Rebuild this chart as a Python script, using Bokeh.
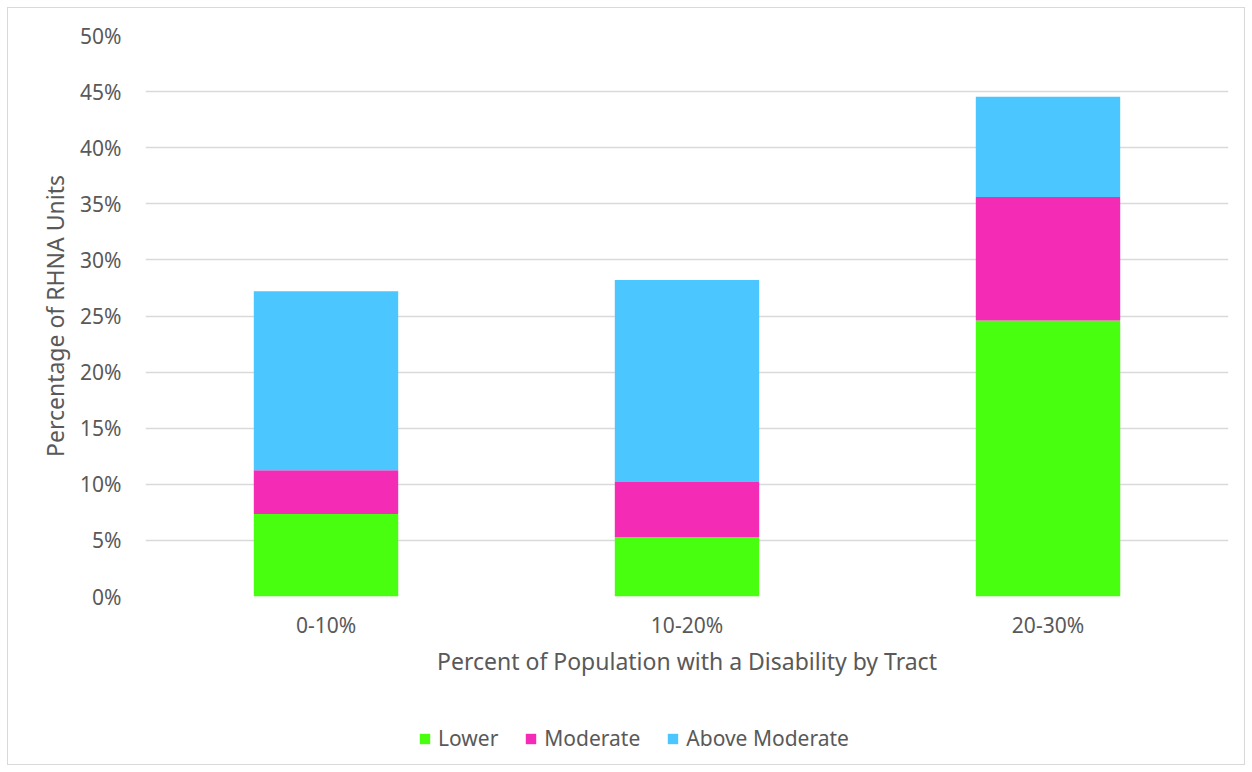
from bokeh.plotting import figure
from bokeh.layouts import column
from bokeh.models import ColumnDataSource, FactorRange, Range1d, Legend, LegendItem, NumeralTickFormatter, SingleIntervalTicker
from bokeh.embed import file_html
from bokeh.resources import INLINE

categories = ["0-10%", "10-20%", "20-30%"]
lower = [0.0735, 0.053, 0.246]
moderate = [0.039, 0.049, 0.110]
above_moderate = [0.1595, 0.180, 0.0895]
series = ["Lower", "Moderate", "Above Moderate"]
colors = ["#47FF0F", "#F42BB4", "#4BC6FF"]

FONT = "Noto Sans"
TXT = "#595959"
BORDER = "1px solid #d9d9d9"

src = ColumnDataSource(dict(cat=categories, lower=lower, moderate=moderate, above=above_moderate))

p = figure(x_range=FactorRange(*categories, range_padding=0), y_range=(0, 0.5),
           width=1238, height=693, output_backend="svg", toolbar_location=None,
           min_border_left=137, min_border_right=18, min_border_top=27, min_border_bottom=105)
p.styles = {"border-top": BORDER, "border-left": BORDER, "border-right": BORDER, "box-sizing": "border-box"}

r = p.vbar_stack(["lower", "moderate", "above"], x="cat", width=0.4, source=src,
                 color=colors, line_color=None)

p.outline_line_color = None
p.xgrid.grid_line_color = None
p.ygrid.grid_line_color = "#d9d9d9"
p.ygrid.grid_line_width = 1.5
p.yaxis.ticker = SingleIntervalTicker(interval=0.05)
p.yaxis.formatter = NumeralTickFormatter(format="0%")

for ax in (p.xaxis[0], p.yaxis[0]):
    ax.axis_line_color = None
    ax.major_tick_line_color = None
    ax.minor_tick_line_color = None
    ax.major_label_text_font = FONT
    ax.major_label_text_color = TXT
    ax.major_label_text_font_size = "21px"
    ax.axis_label_text_font = FONT
    ax.axis_label_text_color = TXT
    ax.axis_label_text_font_size = "23px"
    ax.axis_label_text_font_style = "normal"

p.xaxis.axis_label = "Percent of Population with a Disability by Tract"
p.yaxis.axis_label = "Percentage of RHNA Units"
p.xaxis.major_label_standoff = 8
p.xaxis.axis_label_standoff = 3
p.yaxis.major_label_standoff = 18
p.yaxis.axis_label_standoff = 6

# legend strip below the chart
p2 = figure(x_range=Range1d(0, 1), y_range=Range1d(0, 1), width=1238, height=65,
            output_backend="svg", toolbar_location=None,
            min_border_left=0, min_border_right=0, min_border_top=0, min_border_bottom=0)
p2.styles = {"border-bottom": BORDER, "border-left": BORDER, "border-right": BORDER, "box-sizing": "border-box"}
p2.axis.visible = False
p2.grid.visible = False
p2.outline_line_color = None
# zero-height placeholder bars so the legend can draw its swatches
dummy = ColumnDataSource(dict(x=[0.5], top=[0]))
lr = [p2.vbar(x="x", top="top", width=0.1, source=dummy, color=c, line_color=None) for c in colors]

legend = Legend(items=[LegendItem(label=s, renderers=[rr]) for s, rr in zip(series, lr)],
                orientation="horizontal", location=(273, 13),
                glyph_width=13, glyph_height=13, label_standoff=7, spacing=26,
                padding=0, margin=0, border_line_color=None, background_fill_alpha=0,
                label_text_font=FONT, label_text_color=TXT, label_text_font_size="21px")
p2.add_layout(legend, "center")

layout = column(p, p2, spacing=0)
layout.styles = {"margin": "7px 0 0 7px"}

open("out.html", "w").write(file_html(layout, INLINE))
